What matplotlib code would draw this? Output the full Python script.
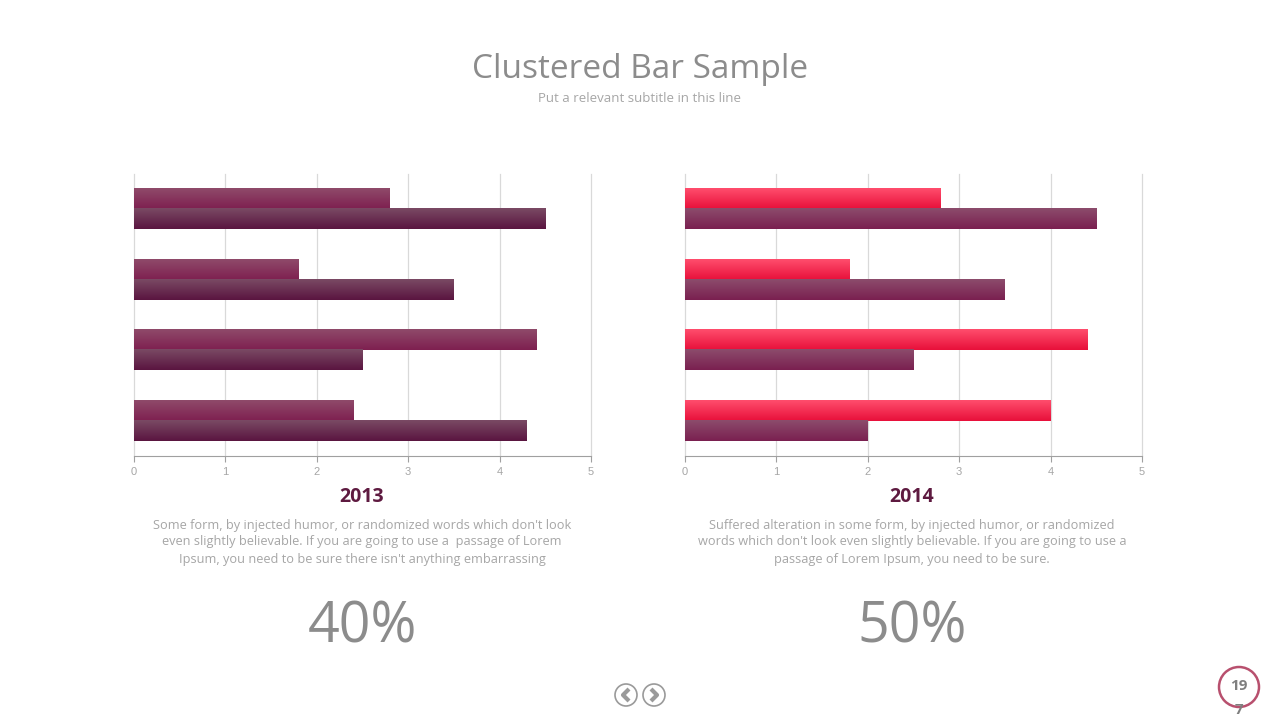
import matplotlib.pyplot as plt
import numpy as np
from matplotlib.colors import LinearSegmentedColormap
from matplotlib.patches import Circle

CATEGORIES = ["Category 1", "Category 2", "Category 3", "Category 4"]
S1_2013 = [2.8, 1.8, 4.4, 2.4]
S2_2013 = [4.5, 3.5, 2.5, 4.3]
S1_2014 = [2.8, 1.8, 4.4, 4.0]
S2_2014 = [4.5, 3.5, 2.5, 2.0]
XTICKS = [0, 1, 2, 3, 4, 5]

TEXT_2013 = ("Some form, by injected humor, or randomized words which don't look\n"
             "even slightly believable. If you are going to use a  passage of Lorem\n"
             "Ipsum, you need to be sure there isn't anything embarrassing")
TEXT_2014 = ("Suffered alteration in some form, by injected humor, or randomized\n"
             "words which don't look even slightly believable. If you are going to use a\n"
             "passage of Lorem Ipsum, you need to be sure.")

FONT = ["Open Sans", "DejaVu Sans"]
GREY = "#a6a6a6"
DARK_GREY = "#8c8c8c"
MAROON = "#5e1a40"

# gradient (top colour, bottom colour) for each series
GRAD_LEFT_UP = ("#8f4a6a", "#7e2050")
GRAD_LEFT_LOW = ("#7a4a64", "#5a1540")
GRAD_RIGHT_UP = ("#ff4d6d", "#e8103a")
GRAD_RIGHT_LOW = ("#8c4c6c", "#7a2050")

BAR_H = 0.284


def _gradient_bars(ax, y, values, colors):
    bars = ax.barh(y, values, height=BAR_H, color=colors[1], zorder=2)
    cmap = LinearSegmentedColormap.from_list("g", list(colors))
    grad = np.linspace(0, 1, 64).reshape(-1, 1)
    for b in bars:
        x0, y0 = b.get_x(), b.get_y()
        w, h = b.get_width(), b.get_height()
        # inverted y axis: y0 is visually the top edge
        ax.imshow(grad, cmap=cmap, aspect="auto", zorder=3,
                  extent=[x0, x0 + w, y0 + h, y0], interpolation="bicubic")


def _panel(fig, left, s1, s2, up, low):
    ax = fig.add_axes([left, 1 - 456 / 720, 0.357, 282 / 720])
    y = np.arange(len(CATEGORIES))
    _gradient_bars(ax, y - BAR_H / 2, s1, up)
    _gradient_bars(ax, y + BAR_H / 2, s2, low)
    ax.set_xlim(0, 5)
    ax.set_ylim(len(CATEGORIES) - 0.5, -0.5)
    ax.set_xticks(XTICKS)
    ax.set_xticklabels([str(t) for t in XTICKS], color=GREY, fontsize=8,
                       family=["Liberation Sans", "DejaVu Sans"])
    ax.set_yticks([])
    ax.tick_params(axis="x", length=4, color="#a0a0a0", pad=4)
    ax.grid(axis="x", color="#d9d9d9", lw=0.9, zorder=0)
    for line in ax.get_xgridlines():
        line.set_clip_on(False)
    for s in ("top", "right", "left"):
        ax.spines[s].set_visible(False)
    ax.spines["bottom"].set_color("#a0a0a0")
    ax.set_axisbelow(True)
    return ax


def main():
    fig = plt.figure(figsize=(12.8, 7.2), dpi=100)
    fig.patch.set_facecolor("white")

    fig.text(0.5, 1 - 69 / 720, "Clustered Bar Sample", ha="center", va="center",
             fontsize=24, color=DARK_GREY, family=FONT)
    fig.text(0.5, 1 - 99 / 720, "Put a relevant subtitle in this line", ha="center",
             va="center", fontsize=9.5, color=GREY, family=FONT)

    _panel(fig, 134 / 1280, S1_2013, S2_2013, GRAD_LEFT_UP, GRAD_LEFT_LOW)
    _panel(fig, 685 / 1280, S1_2014, S2_2014, GRAD_RIGHT_UP, GRAD_RIGHT_LOW)

    for cx, year, para, pct in [(362, "2013", TEXT_2013, "40%"),
                                (912, "2014", TEXT_2014, "50%")]:
        fx = cx / 1280
        fig.text(fx, 1 - 497 / 720, year, ha="center", va="center", fontsize=14,
                 fontweight="bold", color=MAROON, family=FONT)
        fig.text(fx, 1 - 542 / 720, para, ha="center", va="center", fontsize=9.2,
                 color=GREY, family=FONT, linespacing=1.4)
        fig.text(fx, 1 - 628 / 720, pct, ha="center", va="center", fontsize=40,
                 color=DARK_GREY, family=FONT)

    # navigation buttons and page number
    ov = fig.add_axes([0, 0, 1, 1], facecolor="none")
    ov.set_xlim(0, 1280)
    ov.set_ylim(720, 0)
    ov.axis("off")
    for cx, ch in [(626, "<"), (654, ">")]:
        ov.add_patch(Circle((cx, 695), 11, fill=False, ec="#9a9a9a", lw=1.2))
        sign = -1 if ch == "<" else 1
        ov.plot([cx - 3 * sign, cx + 3 * sign, cx - 3 * sign],
                [689, 695, 701], color="#9a9a9a", lw=3, solid_capstyle="butt")
    ov.add_patch(Circle((1239, 687), 20, fill=False, ec="#b8506e", lw=1.8))
    ov.text(1239, 686, "19", ha="center", va="center", fontsize=11,
            fontweight="bold", color="#7f7f7f", family=FONT)
    ov.text(1239, 710, "7", ha="center", va="center", fontsize=11,
            fontweight="bold", color="#7f7f7f", family=FONT)

    fig.savefig("out.png", dpi=100, facecolor="white")


if __name__ == "__main__":
    main()
